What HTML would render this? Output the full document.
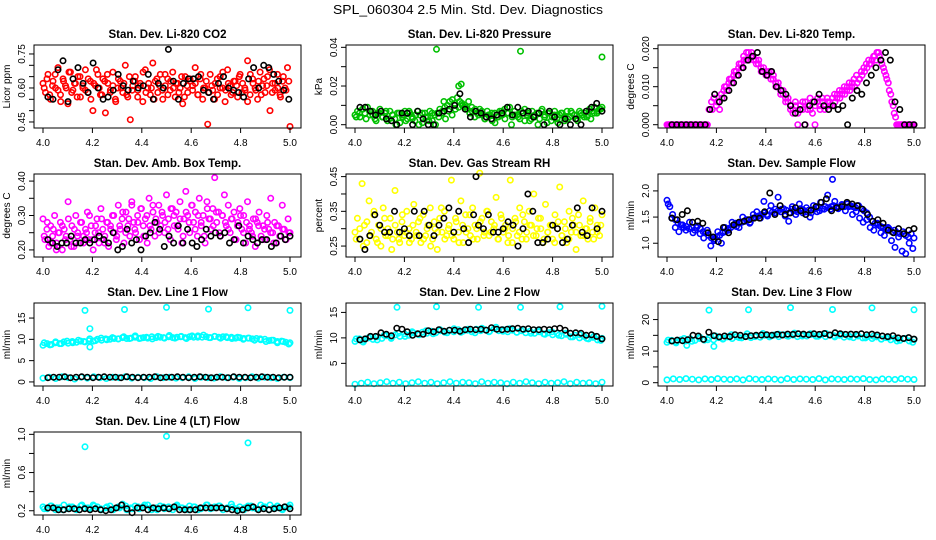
<!DOCTYPE html>
<html><head><meta charset="utf-8"><title>SPL_060304 2.5 Min. Std. Dev. Diagnostics</title>
<style>
html,body{margin:0;padding:0;background:#fff;}
svg{display:block;font-family:"Liberation Sans",sans-serif;}
</style></head>
<body>
<svg id="chart" width="936" height="540" viewBox="0 0 936 540">
<text x="468" y="14" text-anchor="middle" font-size="13" textLength="270" lengthAdjust="spacingAndGlyphs">SPL_060304  2.5 Min. Std. Dev. Diagnostics</text>
</svg>
<script>
// ---------- data ----------
const xTicks = [4.0, 4.2, 4.4, 4.6, 4.8, 5.0];
const xTickLabels = ["4.0", "4.2", "4.4", "4.6", "4.8", "5.0"];

const co2Red = [0.62,0.58,0.66,0.55,0.63,0.60,0.69,0.57,0.64,0.61,0.53,0.67,0.59,0.62,0.65,0.56,0.60,0.68,0.58,0.63,0.50,0.61,0.66,0.57,0.64,0.49,0.62,0.59,0.67,0.55,0.60,0.63,0.58,0.70,0.56,0.46,0.61,0.65,0.59,0.62,0.54,0.68,0.60,0.57,0.71,0.63,0.58,0.66,0.55,0.61,0.64,0.59,0.67,0.56,0.62,0.60,0.53,0.65,0.58,0.63,0.61,0.69,0.57,0.64,0.55,0.60,0.44,0.66,0.59,0.62,0.57,0.65,0.60,0.54,0.68,0.61,0.58,0.63,0.56,0.66,0.62,0.59,0.72,0.57,0.64,0.60,0.55,0.67,0.61,0.58,0.65,0.50,0.62,0.59,0.66,0.57,0.63,0.60,0.69,0.43];
const co2RedB = [0.60,0.64,0.57,0.61,0.66,0.59,0.54,0.63,0.60,0.67,0.58,0.62,0.56,0.65,0.61,0.59,0.64,0.55,0.62,0.68,0.60,0.57,0.63,0.66,0.58,0.61,0.54,0.64,0.60,0.62,0.57,0.65,0.59,0.63,0.56,0.61,0.67,0.58,0.62,0.60,0.55,0.64,0.61,0.59,0.66,0.57,0.63,0.60,0.62,0.58,0.65,0.56,0.61,0.64,0.59,0.62,0.57,0.66,0.60,0.63,0.58,0.61,0.55,0.64,0.60,0.67,0.59,0.62,0.57,0.63,0.61,0.65,0.58,0.60,0.54,0.66,0.62,0.59,0.63,0.57,0.64,0.61,0.68,0.58,0.62,0.60,0.56,0.65,0.59,0.63];
const co2Black = [0.56,0.55,0.68,0.72,0.54,0.64,0.69,0.62,0.58,0.71,0.60,0.55,0.56,0.59,0.66,0.61,0.59,0.63,0.60,0.61,0.66,0.55,0.62,0.60,0.77,0.63,0.55,0.62,0.64,0.64,0.65,0.59,0.58,0.55,0.62,0.65,0.60,0.59,0.58,0.56,0.64,0.69,0.60,0.70,0.69,0.66,0.63,0.59,0.55];

const pressGreen = [0.005,0.007,0.004,0.008,0.006,0.009,0.005,0.007,0.003,0.006,0.008,0.004,0.006,0.002,0.007,0.005,0.003,0.006,0.001,0.005,0.007,0.003,0.006,0.004,0.002,0.007,0.005,0.001,0.006,0.004,0.007,0.002,0.005,0.006,0.008,0.007,0.009,0.010,0.012,0.013,0.011,0.014,0.012,0.010,0.009,0.008,0.006,0.007,0.004,0.006,0.008,0.005,0.003,0.007,0.005,0.002,0.006,0.004,0.007,0.005,0.008,0.006,0.009,0.004,0.007,0.005,0.003,0.006,0.008,0.005,0.002,0.007,0.004,0.006,0.003,0.008,0.005,0.001,0.006,0.004,0.007,0.003,0.005,0.006,0.002,0.007,0.004,0.006,0.005,0.003,0.007,0.005,0.006,0.004,0.008,0.007,0.009,0.006,0.008,0.009];
const pressGreenB = [0.004,0.006,0.008,0.003,0.007,0.005,0.002,0.006,0.004,0.007,0.003,0.005,0.000,0.006,0.004,0.002,0.007,0.003,0.005,0.000,0.006,0.004,0.002,0.006,0.000,0.004,0.006,0.003,0.007,0.005,0.008,0.009,0.011,0.010,0.012,0.009,0.008,0.005,0.007,0.003,0.005,0.006,0.001,0.004,0.007,0.003,0.006,0.000,0.005,0.004,0.007,0.002,0.006,0.003,0.005,0.000,0.007,0.004,0.006,0.002,0.005,0.001,0.006,0.004,0.003,0.007,0.005,0.002,0.006,0.004,0.005,0.003,0.006,0.007,0.008];
const pressBlack = [0.009,0.009,0.007,0.005,0.007,0.003,0.002,0.000,0.006,0.006,0.000,0.007,0.003,0.000,0.000,0.006,0.007,0.008,0.010,0.016,0.008,0.004,0.007,0.006,0.004,0.003,0.005,0.006,0.009,0.005,0.009,0.006,0.007,0.004,0.006,0.000,0.007,0.004,0.000,0.003,0.000,0.003,0.000,0.007,0.009,0.011,0.007];
const pressOutTimes = [4.33, 4.42, 4.43, 4.36, 4.67, 5.0];
const pressOutVals = [0.039, 0.020, 0.021, 0.012, 0.038, 0.035];

const tempMag = [0,0,0,0,0,0,0,0,0,0,0,0,0,0,0,0,0,0.004,0.006,0.007,0.005,0.006,0.008,0.009,0.010,0.011,0.012,0.013,0.014,0.015,0.016,0.018,0.017,0.019,0.018,0.018,0.017,0.016,0.015,0.014,0.014,0.013,0.014,0.012,0.011,0.010,0.009,0.008,0.007,0.006,0.005,0.004,0.005,0.003,0.005,0.004,0.006,0.005,0.004,0.006,0.005,0.007,0.004,0.006,0.005,0.006,0.005,0.007,0.006,0.008,0.007,0.009,0.008,0.010,0.009,0.011,0.010,0.011,0.012,0.013,0.014,0.015,0.016,0.017,0.018,0.019,0.018,0.016,0.014,0.012,0.009,0.006,0.003,0,0,0,0,0,0,0,0];
const tempMagB = [0,0,0,0,0,0,0,0,0,0,0,0,0,0,0,0,0,0.004,0.004,0.008,0.006,0.004,0.007,0.010,0.009,0.012,0.011,0.014,0.013,0.016,0.015,0.017,0.019,0.017,0.019,0.017,0.016,0.017,0.014,0.015,0.013,0.014,0.012,0.013,0.010,0.011,0.008,0.009,0.006,0.007,0.004,0.003,0.006,0,0.004,0.006,0,0.004,0.007,0.003,0,0.006,0.005,0.007,0.004,0.007,0.006,0.005,0.008,0.007,0.009,0.008,0.010,0.009,0.011,0.010,0.012,0.013,0.012,0.014,0.015,0.016,0.017,0.016,0.018,0.017,0.019,0.017,0.015,0.013,0.011,0.008,0.005,0.002,0,0,0,0,0,0,0];
const tempBlack = [0,0,0,0,0,0,0,0,0.004,0.008,0.006,0.007,0.009,0.011,0.013,0.015,0.017,0.018,0.019,0.014,0.013,0.014,0.010,0.009,0.008,0.005,0.003,0.004,0,0.005,0.006,0.008,0.005,0.004,0.005,0.004,0.005,0,0.007,0.009,0.008,0.011,0.013,0.015,0.017,0.019,0.017,0.006,0.004,0,0,0];

const ambMag = [0.29,0.23,0.26,0.21,0.27,0.24,0.30,0.22,0.25,0.28,0.20,0.26,0.24,0.34,0.23,0.27,0.21,0.30,0.25,0.22,0.28,0.24,0.26,0.31,0.23,0.27,0.20,0.25,0.29,0.22,0.32,0.26,0.24,0.28,0.21,0.27,0.30,0.25,0.23,0.33,0.26,0.29,0.22,0.31,0.27,0.24,0.34,0.28,0.25,0.30,0.23,0.32,0.27,0.29,0.22,0.35,0.26,0.31,0.24,0.28,0.33,0.27,0.30,0.25,0.36,0.29,0.23,0.32,0.27,0.31,0.26,0.34,0.22,0.29,0.37,0.30,0.25,0.33,0.28,0.31,0.24,0.35,0.27,0.30,0.22,0.34,0.29,0.26,0.32,0.41,0.28,0.31,0.24,0.30,0.36,0.27,0.33,0.25,0.29,0.31,0.23,0.28,0.32,0.26,0.30,0.22,0.34,0.27,0.25,0.29,0.21,0.28,0.31,0.24,0.27,0.23,0.30,0.26,0.35,0.25,0.28,0.22,0.27,0.24,0.33,0.26,0.23,0.29,0.25];
const ambMagB = [0.24,0.28,0.22,0.26,0.20,0.25,0.27,0.23,0.29,0.21,0.26,0.24,0.28,0.22,0.25,0.30,0.23,0.27,0.25,0.29,0.22,0.28,0.26,0.30,0.24,0.27,0.31,0.25,0.29,0.33,0.26,0.28,0.32,0.24,0.30,0.27,0.33,0.29,0.25,0.31,0.28,0.26,0.32,0.30,0.27,0.29,0.24,0.31,0.28,0.33,0.26,0.30,0.28,0.24,0.32,0.29,0.27,0.31,0.25,0.30,0.28,0.26,0.29,0.23,0.27,0.30,0.25,0.28,0.26,0.24,0.29,0.27,0.23,0.26,0.28,0.25,0.22,0.27,0.24,0.26,0.23,0.25];
const ambBlack = [0.23,0.22,0.21,0.22,0.22,0.24,0.22,0.22,0.23,0.22,0.23,0.24,0.23,0.22,0.25,0.20,0.21,0.26,0.22,0.23,0.20,0.24,0.25,0.28,0.26,0.21,0.24,0.22,0.27,0.22,0.26,0.22,0.21,0.23,0.26,0.24,0.25,0.24,0.25,0.22,0.23,0.27,0.22,0.24,0.23,0.22,0.23,0.23,0.21,0.22,0.24,0.23,0.24];

const rhYellow = [0.29,0.33,0.27,0.43,0.31,0.26,0.38,0.29,0.34,0.27,0.31,0.25,0.36,0.28,0.30,0.33,0.27,0.41,0.29,0.26,0.32,0.28,0.35,0.30,0.27,0.37,0.29,0.32,0.26,0.34,0.28,0.31,0.36,0.27,0.30,0.24,0.33,0.29,0.35,0.28,0.31,0.44,0.27,0.32,0.29,0.38,0.26,0.34,0.30,0.28,0.36,0.31,0.27,0.46,0.33,0.29,0.35,0.28,0.32,0.30,0.39,0.27,0.34,0.29,0.31,0.26,0.44,0.30,0.33,0.28,0.36,0.27,0.32,0.29,0.35,0.31,0.40,0.28,0.33,0.30,0.26,0.37,0.29,0.31,0.27,0.34,0.30,0.42,0.28,0.32,0.26,0.35,0.29,0.31,0.24,0.34,0.28,0.38,0.30,0.27,0.33,0.29,0.36,0.31,0.28,0.34];
const rhYellowB = [0.27,0.30,0.25,0.32,0.28,0.35,0.26,0.30,0.33,0.28,0.24,0.31,0.27,0.34,0.29,0.26,0.31,0.28,0.33,0.27,0.30,0.25,0.32,0.29,0.36,0.27,0.30,0.28,0.33,0.26,0.31,0.29,0.34,0.27,0.30,0.32,0.28,0.35,0.29,0.31,0.27,0.33,0.30,0.28,0.26,0.32,0.29,0.34,0.27,0.31,0.28,0.30,0.33,0.27,0.29,0.31,0.26,0.32,0.28,0.30,0.27,0.33,0.29,0.31,0.28,0.30,0.32,0.27,0.29,0.31];
const rhBlack = [0.27,0.24,0.28,0.34,0.31,0.29,0.29,0.35,0.29,0.30,0.28,0.35,0.28,0.35,0.31,0.28,0.31,0.33,0.36,0.29,0.35,0.30,0.26,0.34,0.31,0.30,0.34,0.29,0.29,0.30,0.32,0.31,0.25,0.30,0.40,0.35,0.26,0.26,0.27,0.31,0.30,0.26,0.27,0.31,0.36,0.29,0.28,0.36,0.30,0.35,0.45];
const rhBlackTimes = [4.49];

const flowBlue = [1.82,1.70,1.55,1.45,1.38,1.35,1.30,1.32,1.28,1.30,1.25,1.33,1.28,1.22,1.20,1.15,1.10,1.05,1.12,1.15,1.20,1.22,1.28,1.30,1.35,1.32,1.38,1.40,1.42,1.45,1.40,1.48,1.50,1.52,1.55,1.58,1.55,1.62,1.60,1.65,1.62,1.60,1.66,1.63,1.58,1.65,1.62,1.60,1.66,1.64,1.60,1.63,1.58,1.65,1.67,1.62,1.66,1.70,1.68,1.65,1.72,1.70,1.68,1.73,1.70,1.75,1.72,1.70,1.68,1.72,1.66,1.62,1.58,1.50,1.42,1.38,1.35,1.32,1.30,1.26,1.28,1.22,1.25,1.20,1.18,1.22,1.15,1.12,1.18,1.10];
const flowBlueB = [1.75,1.48,1.30,1.22,1.35,1.25,1.40,1.20,1.30,1.18,1.10,1.25,0.95,1.08,1.22,1.00,1.30,1.25,1.40,1.38,1.30,1.50,1.45,1.38,1.55,1.60,1.48,1.80,1.52,1.72,1.58,1.88,1.65,1.52,1.42,1.70,1.55,1.75,1.58,1.68,1.50,1.72,1.60,1.78,1.65,1.92,1.70,1.80,1.66,1.74,1.62,1.70,1.55,1.60,1.48,1.40,1.45,1.30,1.25,1.38,1.20,1.15,1.30,1.05,0.92,1.12,0.85,0.80,1.00,0.90];
const flowBlack = [1.48,1.45,1.55,1.62,1.40,1.42,1.38,1.20,1.12,1.03,1.30,1.20,1.35,1.40,1.42,1.45,1.48,1.48,1.60,1.96,1.55,1.72,1.55,1.58,1.68,1.62,1.55,1.63,1.70,1.78,1.85,1.62,1.68,1.70,1.78,1.75,1.72,1.65,1.55,1.42,1.45,1.38,1.25,1.20,1.28,1.18,1.25,1.28];
const flowOutTimes = [4.67];
const flowOutVals = [2.22];

const line1High = [8.6,9.0,8.8,9.2,9.0,9.4,9.1,9.5,9.3,9.6,9.4,9.7,9.6,10.0,9.8,10.1,10.0,10.2,10.1,10.4,10.2,10.3,10.5,10.2,10.4,10.3,10.6,10.4,10.5,10.3,10.6,10.4,10.5,10.7,10.4,10.6,10.5,10.8,10.5,10.6,10.4,10.7,10.5,10.6,10.4,10.5,10.3,10.4,10.2,10.3,10.1,10.2,9.9,10.0,9.7,9.8,9.5,9.6,9.3,9.2];
const line1HighB = [9.2,8.7,9.4,9.0,9.6,9.2,9.8,9.5,10.1,9.7,10.3,9.9,10.4,10.1,10.6,10.2,10.8,10.3,10.5,10.1,10.7,10.4,10.9,10.3,10.6,10.2,10.8,10.5,11.0,10.4,10.7,10.3,10.6,10.2,10.5,10.0,10.3,9.8,10.1,9.5,9.8,9.2,9.5,8.9];
const line1Low = [0.9,1.1,0.8,1.2,1.0,0.7,1.1,0.9,1.2,1.0,0.8,1.1,1.0,1.2,0.9,1.1,1.0,0.8,1.2,1.0,1.1,0.9,1.0,1.2,0.8,1.1,1.0,0.9,1.2,1.0,1.1,0.8,1.0,1.2,0.9,1.1,1.0,0.8,1.1,1.0];
const line1Black = [1.0,1.1,1.1,1.2,1.0,1.1,1.2,1.1,1.0,1.1,1.2,1.1,1.1,1.0,1.2,1.1,1.0,1.1,1.1,1.2,1.0,1.1,1.1,1.2,1.1,1.0,1.1,1.2,1.1,1.0,1.1,1.1,1.0,1.2,1.1,1.1,1.0,1.1,1.2,1.1,1.1,1.0,1.1,1.1];
const line1OutTimes = [4.17, 4.19, 4.33, 4.50, 4.67, 4.83, 5.00, 4.19];
const line1OutVals = [16.8, 12.5, 17.0, 17.5, 17.1, 17.4, 16.8, 8.2];

const line2High = [9.3,9.8,9.5,10.0,9.7,10.2,9.9,10.4,10.1,10.6,10.3,10.8,10.5,11.0,10.7,11.1,10.9,11.3,11.0,11.4,11.1,11.5,11.2,11.6,11.3,11.5,11.2,11.7,11.4,11.6,11.3,11.8,11.4,11.6,11.2,11.5,11.1,11.4,11.0,11.3,10.9,11.2,10.8,11.0,10.6,10.9,10.4,10.7,10.2,10.5,10.0,10.3,9.8,10.1,9.6,9.9];
const line2HighB = [9.8,9.2,10.2,9.6,10.5,9.9,10.9,10.3,11.2,10.6,11.4,10.8,11.6,11.0,11.8,11.1,11.7,11.0,11.9,11.2,12.1,11.3,11.8,11.1,11.6,10.9,11.5,10.7,11.2,10.5,10.9,10.2,10.6,9.9,10.3,9.5];
const line2Low = [0.9,1.1,1.3,1.0,1.2,1.4,1.1,1.3,1.0,1.2,1.4,1.1,1.3,1.0,1.2,1.4,1.1,1.3,1.2,1.0,1.4,1.1,1.3,1.2,1.0,1.3,1.1,1.4,1.2,1.0,1.3,1.1,1.2,1.4,1.0,1.3,1.1,1.2,1.0,1.3];
const line2Black = [9.6,9.8,10.3,10.3,11.0,10.7,10.4,11.9,11.7,11.2,10.5,10.8,10.7,11.4,11.2,11.6,11.3,11.5,11.5,11.3,11.6,11.7,11.6,11.7,11.5,12.0,11.7,11.6,11.7,11.8,11.9,11.7,11.8,11.6,11.6,11.7,11.6,11.8,11.9,11.5,10.9,11.0,10.9,10.5,10.6,10.3,9.8];
const line2OutTimes = [4.17, 4.33, 4.50, 4.67, 4.83, 5.00];
const line2OutVals = [16.0, 16.1, 16.0, 16.0, 16.1, 16.2];

const line3High = [12.8,13.4,13.0,13.6,13.2,13.9,13.4,14.0,13.5,14.2,13.6,14.3,13.8,14.5,14.0,14.6,14.2,14.8,14.3,14.9,14.4,15.0,14.5,15.1,14.6,15.2,14.7,15.1,14.6,15.2,14.8,15.3,14.7,15.2,14.6,15.1,14.5,15.0,14.4,14.9,14.3,14.8,14.2,14.6,14.0,14.5,13.8,14.3,13.6,14.1,13.4,13.9,13.2,13.7];
const line3HighB = [13.5,12.6,14.0,13.1,14.4,13.6,14.8,14.0,15.2,14.3,15.5,14.6,15.6,14.8,15.4,14.9,15.7,14.8,15.5,14.7,15.6,14.9,15.3,14.5,15.0,14.2,14.7,13.8,14.4,13.2,14.0,12.8];
const line3Low = [0.9,1.2,1.0,1.3,1.1,0.9,1.2,1.0,1.3,1.1,1.0,1.2,0.9,1.3,1.1,1.0,1.2,1.1,0.9,1.3,1.0,1.2,1.1,1.0,1.3,0.9,1.2,1.1,1.0,1.2,1.1,1.3,1.0,0.9,1.2,1.1,1.0,1.3,1.1,1.0];
const line3Black = [13.2,13.5,13.3,13.6,15.0,14.8,13.7,16.0,14.9,14.5,14.8,14.6,15.2,15.0,14.6,14.9,15.0,15.1,15.2,15.0,15.3,15.1,15.4,15.3,15.5,15.4,15.2,15.5,15.3,15.6,15.1,15.8,15.5,15.3,15.4,15.3,15.5,15.2,15.4,15.1,14.8,14.6,14.9,14.2,14.0,14.3,13.8];
const line3OutTimes = [4.17, 4.33, 4.50, 4.67, 4.83, 5.00, 4.08, 4.19];
const line3OutVals = [23.0, 23.1, 23.8, 23.2, 23.7, 23.1, 11.8, 11.5];

const line4Cyan = [0.24,0.22,0.25,0.21,0.23,0.26,0.22,0.24,0.21,0.25,0.23,0.22,0.26,0.24,0.21,0.23,0.25,0.22,0.24,0.27,0.21,0.23,0.25,0.22,0.24,0.26,0.21,0.23,0.25,0.22,0.24,0.21,0.26,0.23,0.22,0.25,0.24,0.21,0.23,0.26,0.22,0.24,0.25,0.21,0.23,0.27,0.22,0.24,0.21,0.25,0.23,0.22,0.26,0.24,0.21,0.23,0.25,0.22,0.24,0.26];
const line4CyanB = [0.22,0.25,0.23,0.21,0.24,0.22,0.26,0.23,0.25,0.22,0.24,0.21,0.23,0.25,0.22,0.24,0.26,0.23,0.21,0.24,0.22,0.25,0.23,0.21,0.24,0.22,0.26,0.23,0.25,0.22,0.24,0.21,0.23,0.25,0.22,0.24,0.26,0.23,0.21,0.24];
const line4Black = [0.23,0.23,0.21,0.21,0.22,0.22,0.21,0.22,0.21,0.22,0.21,0.20,0.21,0.23,0.26,0.22,0.18,0.23,0.23,0.21,0.23,0.22,0.23,0.22,0.24,0.21,0.21,0.21,0.21,0.23,0.23,0.23,0.23,0.23,0.22,0.21,0.20,0.21,0.23,0.24,0.21,0.22,0.21,0.22,0.23,0.24,0.22];
const line4OutTimes = [4.17, 4.50, 4.83];
const line4OutVals = [0.87, 0.98, 0.91];

// ---------- drawing ----------
const NS = "http://www.w3.org/2000/svg";
const svg = document.getElementById("chart");
function mk(tag, attrs, parent) {
  const e = document.createElementNS(NS, tag);
  for (const k in attrs) e.setAttribute(k, attrs[k]);
  (parent || svg).appendChild(e);
  return e;
}

const panels = [
  {key:"co2", col:0,row:0,title:"Stan. Dev. Li-820 CO2",ylab:"Licor ppm",ylim:[0.438,0.775],ticks:[0.45,0.5,0.55,0.6,0.65,0.7,0.75],labels:{"0.45":"0.45","0.6":"0.60","0.75":"0.75"},
   series:[{v:co2Red,c:"#ff0000"},{v:co2RedB,c:"#ff0000",t0:4.005,t1:4.995},{v:co2Black,c:"#000",t0:4.02,t1:4.995}]},
  {key:"pressure", col:1,row:0,title:"Stan. Dev. Li-820 Pressure",ylab:"kPa",ylim:[0,0.0395],ticks:[0,0.01,0.02,0.03,0.04],labels:{"0":"0.00","0.02":"0.02","0.04":"0.04"},
   series:[{v:pressGreen,c:"#00c000"},{v:pressGreenB,c:"#00c000",t0:4.005,t1:4.995},{times:pressOutTimes,v:pressOutVals,c:"#00c000"},{v:pressBlack,c:"#000",t0:4.02,t1:5.0}]},
  {key:"temp", col:2,row:0,title:"Stan. Dev. Li-820 Temp.",ylab:"degrees C",ylim:[0,0.0201],ticks:[0,0.005,0.01,0.015,0.02],labels:{"0":"0.000","0.01":"0.010","0.02":"0.020"},
   series:[{v:tempMag,c:"#ff00ff"},{v:tempMagB,c:"#ff00ff",t0:4.005,t1:4.995},{v:tempBlack,c:"#000",t0:4.02,t1:5.0}]},
  {key:"ambtemp", col:0,row:1,title:"Stan. Dev. Amb. Box Temp.",ylab:"degrees C",ylim:[0.189,0.411],ticks:[0.2,0.25,0.3,0.35,0.4],labels:{"0.2":"0.20","0.3":"0.30","0.4":"0.40"},
   series:[{v:ambMag,c:"#ff00ff"},{v:ambMagB,c:"#ff00ff",t0:4.005,t1:4.995},{v:ambBlack,c:"#000",t0:4.02,t1:5.0}]},
  {key:"rh", col:1,row:1,title:"Stan. Dev. Gas Stream RH",ylab:"percent",ylim:[0.228,0.448],ticks:[0.25,0.3,0.35,0.4,0.45],labels:{"0.25":"0.25","0.35":"0.35","0.45":"0.45"},
   series:[{v:rhYellow,c:"#ffff00"},{v:rhYellowB,c:"#ffff00",t0:4.005,t1:4.995},{v:rhBlack.slice(0,50),c:"#000",t0:4.02,t1:5.0},{times:rhBlackTimes,v:rhBlack.slice(50),c:"#000"}]},
  {key:"sampleflow", col:2,row:1,title:"Stan. Dev. Sample Flow",ylab:"ml/min",ylim:[0.8,2.26],ticks:[1,1.5,2],labels:{"1":"1.0","1.5":"1.5","2":"2.0"},
   series:[{v:flowBlue,c:"#0000ff"},{v:flowBlueB,c:"#0000ff",t0:4.005,t1:4.995},{times:flowOutTimes,v:flowOutVals,c:"#0000ff"},{v:flowBlack,c:"#000",t0:4.02,t1:5.0}]},
  {key:"line1", col:0,row:2,title:"Stan. Dev. Line 1 Flow",ylab:"ml/min",ylim:[-0.18,17.76],ticks:[0,5,10,15],labels:{"0":"0","5":"5","10":"10","15":"15"},
   series:[{v:line1High,c:"#00ffff"},{v:line1HighB,c:"#00ffff",t0:4.005,t1:4.995},{v:line1Low,c:"#00ffff"},{times:line1OutTimes,v:line1OutVals,c:"#00ffff"},{v:line1Black,c:"#000",t0:4.02,t1:5.0}]},
  {key:"line2", col:1,row:2,title:"Stan. Dev. Line 2 Flow",ylab:"ml/min",ylim:[1.2,16.2],ticks:[5,10,15],labels:{"5":"5","10":"10","15":"15"},
   series:[{v:line2High,c:"#00ffff"},{v:line2HighB,c:"#00ffff",t0:4.005,t1:4.995},{v:line2Low,c:"#00ffff"},{times:line2OutTimes,v:line2OutVals,c:"#00ffff"},{v:line2Black,c:"#000",t0:4.02,t1:5.0}]},
  {key:"line3", col:2,row:2,title:"Stan. Dev. Line 3 Flow",ylab:"ml/min",ylim:[0,24.2],ticks:[0,5,10,15,20],labels:{"0":"0","10":"10","20":"20"},
   series:[{v:line3High,c:"#00ffff"},{v:line3HighB,c:"#00ffff",t0:4.005,t1:4.995},{v:line3Low,c:"#00ffff"},{times:line3OutTimes,v:line3OutVals,c:"#00ffff"},{v:line3Black,c:"#000",t0:4.02,t1:5.0}]},
  {key:"line4", col:0,row:3,title:"Stan. Dev. Line 4 (LT) Flow",ylab:"ml/min",ylim:[0.19,0.99],ticks:[0.2,0.4,0.6,0.8,1.0],labels:{"0.2":"0.2","0.6":"0.6","1":"1.0"},
   series:[{v:line4Cyan,c:"#00ffff"},{v:line4CyanB,c:"#00ffff",t0:4.005,t1:4.995},{times:line4OutTimes,v:line4OutVals,c:"#00ffff"},{v:line4Black,c:"#000",t0:4.02,t1:5.0}]}
];

panels.forEach(p => {
  const x0 = 34 + 312 * p.col, x1 = x0 + 267;
  const y0 = 45 + 129 * p.row, y1 = y0 + 83;
  const xs = t => x0 + 9 + (t - 4) * 247;
  const ys = v => (y1 - 3.3) - (v - p.ylim[0]) / (p.ylim[1] - p.ylim[0]) * (83 - 6.6);
  const g = mk("g", {});
  
  

  const title = mk("text", {x:(x0 + x1) / 2, y:y0 - 7, "text-anchor":"middle", "font-size":"11.5", "font-weight":"bold"}, g);
  title.textContent = p.title;
  
  

  const pts = mk("g", {fill:"none", "stroke-width":"1.6"}, g);
  
  
  p.series.forEach(s => {
    const n = s.v.length;
    const t0 = s.t0 !== undefined ? s.t0 : 4.0, t1 = s.t1 !== undefined ? s.t1 : 5.0;
    s.v.forEach((v, i) => {
      const t = s.times ? s.times[i] : (n > 1 ? t0 + (t1 - t0) * i / (n - 1) : t0);
      const c = mk("circle", {cx:xs(t).toFixed(1), cy:ys(v).toFixed(1), r:"2.7", stroke:s.c}, pts);
      
      
    });
  });

  const box = mk("rect", {x:x0, y:y0, width:x1 - x0, height:y1 - y0, fill:"none", stroke:"#000", "stroke-width":"1"}, g);
  
  

  const xa = mk("g", {}, g);
  
  
  mk("line", {x1:xs(4), x2:xs(5), y1:y1, y2:y1, stroke:"#000"}, xa);
  xTicks.forEach((t, i) => {
    mk("line", {x1:xs(t), x2:xs(t), y1:y1, y2:y1 + 5, stroke:"#000"}, xa);
    const tl = mk("text", {x:xs(t), y:y1 + 18, "text-anchor":"middle", "font-size":"10"}, xa);
    tl.textContent = xTickLabels[i];
    
    
  });

  const ya = mk("g", {}, g);
  
  
  p.ticks.forEach(v => {
    const y = ys(v);
    if (y < y0 - 0.5 || y > y1 + 0.5) return;
    mk("line", {x1:x0 - 5, x2:x0, y1:y, y2:y, stroke:"#000"}, ya);
    const lab = p.labels[String(v)];
    if (lab !== undefined) {
      const tl = mk("text", {x:x0 - 9, y:y, "text-anchor":"middle", "font-size":"10", transform:`rotate(-90 ${x0 - 9} ${y})`}, ya);
      tl.textContent = lab;
      
      
    }
  });
  const yl = mk("text", {x:x0 - 24, y:(y0 + y1) / 2, "text-anchor":"middle", "font-size":"10", transform:`rotate(-90 ${x0 - 24} ${(y0 + y1) / 2})`}, g);
  yl.textContent = p.ylab;
  
  
});
</script>
</body></html>
